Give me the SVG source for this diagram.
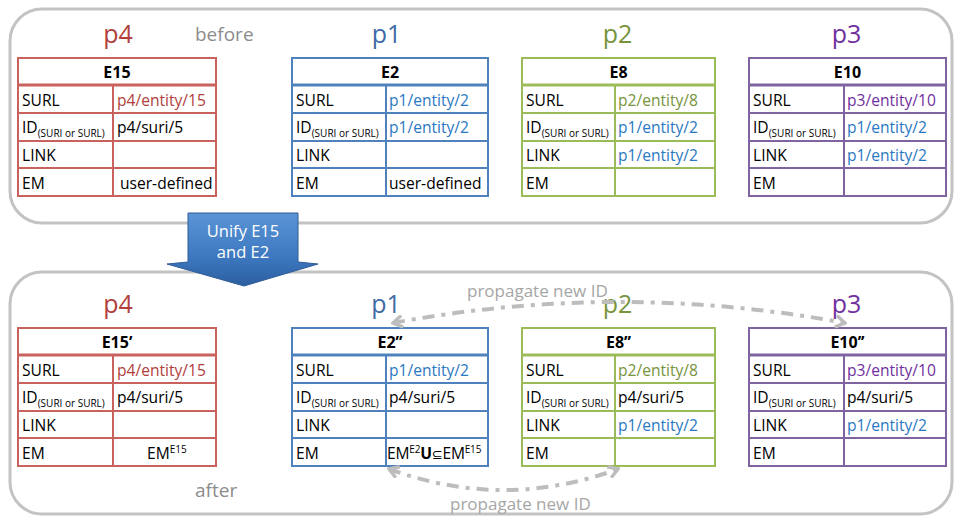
<svg xmlns="http://www.w3.org/2000/svg" width="955" height="516" viewBox="0 0 955 516">
  <defs>
    <style>
      text { font-family: "Open Sans", "DejaVu Sans", sans-serif; }
      .panel { fill: #ffffff; stroke: #c3c3c3; stroke-width: 3; }
      .title { font-size: 25px; text-anchor: middle; }
      .note { font-size: 19px; fill: #8c8c8c; }
      .prop { font-size: 17px; fill: #a6a6a6; }
      .cell { font-size: 15.6px; fill: #000000; }
      .head { font-size: 16px; font-weight: bold; text-anchor: middle; fill: #000000; }
      .sub { font-size: 10px; }
      .sup { font-size: 10px; }
      .t-p4 { fill: none; stroke: #c9625f; stroke-width: 2; }
      .t-p1 { fill: none; stroke: #4f81bd; stroke-width: 2; }
      .t-p2 { fill: none; stroke: #9bbb59; stroke-width: 2; }
      .t-p3 { fill: none; stroke: #8064a2; stroke-width: 2; }
      .hsep { stroke-width: 3; }
      .c4 { fill: #b1403d; }
      .c1 { fill: #3f6ba6; }
      .c2 { fill: #77933c; }
      .c3 { fill: #7030a0; }
      .link { fill: #2a78c2; }
      .flow { fill: none; stroke: #bdbdbd; stroke-width: 4; stroke-dasharray: 12 7 4 7; }
    </style>
    <marker id="chev" viewBox="0 0 12 12" refX="10" refY="6" markerWidth="14" markerHeight="14" markerUnits="userSpaceOnUse" orient="auto-start-reverse">
      <path d="M2,1 L10,6 L2,11" fill="none" stroke="#bdbdbd" stroke-width="3"/>
    </marker>
    <linearGradient id="blueArrow" x1="0" y1="0" x2="0" y2="1">
      <stop offset="0" stop-color="#5b95d6"/>
      <stop offset="0.6" stop-color="#3d78c0"/>
      <stop offset="1" stop-color="#2c5e9f"/>
    </linearGradient>
  </defs>

  <!-- panels -->
  <rect class="panel" x="10" y="9" width="942" height="214" rx="32"/>
  <rect class="panel" x="10" y="272" width="942" height="242" rx="32"/>
  <text class="note" x="195" y="41">before</text>
  <text class="note" x="195" y="497">after</text>

  <!-- before: p4 / E15 -->
  <g id="p4-before">
    <text class="title c4" x="118" y="43">p4</text>
    <rect class="t-p4" x="18" y="58" width="198" height="138"/>
    <line class="t-p4 hsep" x1="18" y1="85" x2="216" y2="85"/>
    <line class="t-p4" x1="18" y1="113" x2="216" y2="113"/>
    <line class="t-p4" x1="18" y1="141" x2="216" y2="141"/>
    <line class="t-p4" x1="18" y1="168" x2="216" y2="168"/>
    <line class="t-p4" x1="113" y1="85" x2="113" y2="196"/>
    <text class="head" x="117" y="78">E15</text>
    <text class="cell" x="22" y="105.5">SURL</text>
    <text class="cell" x="22" y="133">ID<tspan class="sub" dy="4">(SURI or SURL)</tspan></text>
    <text class="cell" x="22" y="161">LINK</text>
    <text class="cell" x="22" y="188.5">EM</text>
    <text class="cell c4" x="117" y="105.5">p4/entity/15</text>
    <text class="cell" x="117" y="133">p4/suri/5</text>
    <text class="cell" x="120" y="188.5">user-defined</text>
  </g>

  <!-- before: p1 / E2 -->
  <g id="p1-before">
    <text class="title c1" x="386.5" y="43">p1</text>
    <rect class="t-p1" x="292" y="58" width="196" height="138"/>
    <line class="t-p1 hsep" x1="292" y1="85" x2="488" y2="85"/>
    <line class="t-p1" x1="292" y1="113" x2="488" y2="113"/>
    <line class="t-p1" x1="292" y1="141" x2="488" y2="141"/>
    <line class="t-p1" x1="292" y1="168" x2="488" y2="168"/>
    <line class="t-p1" x1="386" y1="85" x2="386" y2="196"/>
    <text class="head" x="390" y="78">E2</text>
    <text class="cell" x="296" y="105.5">SURL</text>
    <text class="cell" x="296" y="133">ID<tspan class="sub" dy="4">(SURI or SURL)</tspan></text>
    <text class="cell" x="296" y="161">LINK</text>
    <text class="cell" x="296" y="188.5">EM</text>
    <text class="cell link" x="389" y="105.5">p1/entity/2</text>
    <text class="cell link" x="389" y="133">p1/entity/2</text>
    <text class="cell" x="389" y="188.5">user-defined</text>
  </g>

  <!-- before: p2 / E8 -->
  <g id="p2-before">
    <text class="title c2" x="617.5" y="43">p2</text>
    <rect class="t-p2" x="522" y="58" width="193" height="138"/>
    <line class="t-p2 hsep" x1="522" y1="85" x2="715" y2="85"/>
    <line class="t-p2" x1="522" y1="113" x2="715" y2="113"/>
    <line class="t-p2" x1="522" y1="141" x2="715" y2="141"/>
    <line class="t-p2" x1="522" y1="168" x2="715" y2="168"/>
    <line class="t-p2" x1="615" y1="85" x2="615" y2="196"/>
    <text class="head" x="618.5" y="78">E8</text>
    <text class="cell" x="526" y="105.5">SURL</text>
    <text class="cell" x="526" y="133">ID<tspan class="sub" dy="4">(SURI or SURL)</tspan></text>
    <text class="cell" x="526" y="161">LINK</text>
    <text class="cell" x="526" y="188.5">EM</text>
    <text class="cell c2" x="618" y="105.5">p2/entity/8</text>
    <text class="cell link" x="618" y="133">p1/entity/2</text>
    <text class="cell link" x="618" y="161">p1/entity/2</text>
  </g>

  <!-- before: p3 / E10 -->
  <g id="p3-before">
    <text class="title c3" x="846.5" y="43">p3</text>
    <rect class="t-p3" x="749" y="58" width="197" height="138"/>
    <line class="t-p3 hsep" x1="749" y1="85" x2="946" y2="85"/>
    <line class="t-p3" x1="749" y1="113" x2="946" y2="113"/>
    <line class="t-p3" x1="749" y1="141" x2="946" y2="141"/>
    <line class="t-p3" x1="749" y1="168" x2="946" y2="168"/>
    <line class="t-p3" x1="844" y1="85" x2="844" y2="196"/>
    <text class="head" x="847.5" y="78">E10</text>
    <text class="cell" x="753" y="105.5">SURL</text>
    <text class="cell" x="753" y="133">ID<tspan class="sub" dy="4">(SURI or SURL)</tspan></text>
    <text class="cell" x="753" y="161">LINK</text>
    <text class="cell" x="753" y="188.5">EM</text>
    <text class="cell c3" x="847" y="105.5">p3/entity/10</text>
    <text class="cell link" x="847" y="133">p1/entity/2</text>
    <text class="cell link" x="847" y="161">p1/entity/2</text>
  </g>

  <!-- after: p4 / E15' -->
  <g id="p4-after">
    <text class="title c4" x="118" y="313">p4</text>
    <rect class="t-p4" x="18" y="328" width="198" height="138"/>
    <line class="t-p4 hsep" x1="18" y1="355" x2="216" y2="355"/>
    <line class="t-p4" x1="18" y1="383" x2="216" y2="383"/>
    <line class="t-p4" x1="18" y1="411" x2="216" y2="411"/>
    <line class="t-p4" x1="18" y1="438" x2="216" y2="438"/>
    <line class="t-p4" x1="113" y1="355" x2="113" y2="466"/>
    <text class="head" x="117" y="348">E15’</text>
    <text class="cell" x="22" y="375.5">SURL</text>
    <text class="cell" x="22" y="403">ID<tspan class="sub" dy="4">(SURI or SURL)</tspan></text>
    <text class="cell" x="22" y="431">LINK</text>
    <text class="cell" x="22" y="458.5">EM</text>
    <text class="cell c4" x="117" y="375.5">p4/entity/15</text>
    <text class="cell" x="117" y="403">p4/suri/5</text>
    <text class="cell" x="147" y="458.5">EM<tspan class="sup" dy="-6">E15</tspan></text>
  </g>

  <!-- after: p1 / E2'' -->
  <g id="p1-after">
    <text class="title c1" x="386" y="313">p1</text>
    <rect class="t-p1" x="292" y="328" width="196" height="138"/>
    <line class="t-p1 hsep" x1="292" y1="355" x2="488" y2="355"/>
    <line class="t-p1" x1="292" y1="383" x2="488" y2="383"/>
    <line class="t-p1" x1="292" y1="411" x2="488" y2="411"/>
    <line class="t-p1" x1="292" y1="438" x2="488" y2="438"/>
    <line class="t-p1" x1="386" y1="355" x2="386" y2="466"/>
    <text class="head" x="390" y="348">E2’’</text>
    <text class="cell" x="296" y="375.5">SURL</text>
    <text class="cell" x="296" y="403">ID<tspan class="sub" dy="4">(SURI or SURL)</tspan></text>
    <text class="cell" x="296" y="431">LINK</text>
    <text class="cell" x="296" y="458.5">EM</text>
    <text class="cell link" x="389" y="375.5">p1/entity/2</text>
    <text class="cell" x="389" y="403">p4/suri/5</text>
    <text class="cell" x="387" y="458.5" letter-spacing="-0.2">EM<tspan class="sup" dy="-6">E2</tspan><tspan dy="6" font-weight="bold">U</tspan><tspan font-size="13">⊆</tspan>EM<tspan class="sup" dy="-6">E15</tspan></text>
  </g>

  <!-- after: p2 / E8'' -->
  <g id="p2-after">
    <text class="title c2" x="617.5" y="313">p2</text>
    <rect class="t-p2" x="522" y="328" width="193" height="138"/>
    <line class="t-p2 hsep" x1="522" y1="355" x2="715" y2="355"/>
    <line class="t-p2" x1="522" y1="383" x2="715" y2="383"/>
    <line class="t-p2" x1="522" y1="411" x2="715" y2="411"/>
    <line class="t-p2" x1="522" y1="438" x2="715" y2="438"/>
    <line class="t-p2" x1="615" y1="355" x2="615" y2="466"/>
    <text class="head" x="618.5" y="348">E8’’</text>
    <text class="cell" x="526" y="375.5">SURL</text>
    <text class="cell" x="526" y="403">ID<tspan class="sub" dy="4">(SURI or SURL)</tspan></text>
    <text class="cell" x="526" y="431">LINK</text>
    <text class="cell" x="526" y="458.5">EM</text>
    <text class="cell c2" x="618" y="375.5">p2/entity/8</text>
    <text class="cell" x="618" y="403">p4/suri/5</text>
    <text class="cell link" x="618" y="431">p1/entity/2</text>
  </g>

  <!-- after: p3 / E10'' -->
  <g id="p3-after">
    <text class="title c3" x="846.5" y="313">p3</text>
    <rect class="t-p3" x="749" y="328" width="197" height="138"/>
    <line class="t-p3 hsep" x1="749" y1="355" x2="946" y2="355"/>
    <line class="t-p3" x1="749" y1="383" x2="946" y2="383"/>
    <line class="t-p3" x1="749" y1="411" x2="946" y2="411"/>
    <line class="t-p3" x1="749" y1="438" x2="946" y2="438"/>
    <line class="t-p3" x1="844" y1="355" x2="844" y2="466"/>
    <text class="head" x="847.5" y="348">E10’’</text>
    <text class="cell" x="753" y="375.5">SURL</text>
    <text class="cell" x="753" y="403">ID<tspan class="sub" dy="4">(SURI or SURL)</tspan></text>
    <text class="cell" x="753" y="431">LINK</text>
    <text class="cell" x="753" y="458.5">EM</text>
    <text class="cell c3" x="847" y="375.5">p3/entity/10</text>
    <text class="cell" x="847" y="403">p4/suri/5</text>
    <text class="cell link" x="847" y="431">p1/entity/2</text>
  </g>

  <!-- connectors: ID propagation -->
  <g id="connectors">
    <path class="flow" d="M393,323 Q619,281 845,323" marker-start="url(#chev)" marker-end="url(#chev)"/>
    <path class="flow" d="M389,469 Q504,511 618,469" marker-start="url(#chev)" marker-end="url(#chev)"/>
    <text class="prop" x="467" y="297">propagate new ID</text>
    <text class="prop" x="450" y="510">propagate new ID</text>
  </g>

  <!-- unify step arrow -->
  <g id="unify">
    <polygon points="188,213 298,213 298,262 318,264 244,286 167,264 188,262" fill="url(#blueArrow)" stroke="#2f5d96" stroke-width="1"/>
    <text x="243" y="237" font-size="16.5" fill="#ffffff" text-anchor="middle">Unify E15</text>
    <text x="243" y="258" font-size="16.5" fill="#ffffff" text-anchor="middle">and E2</text>
  </g>
</svg>
